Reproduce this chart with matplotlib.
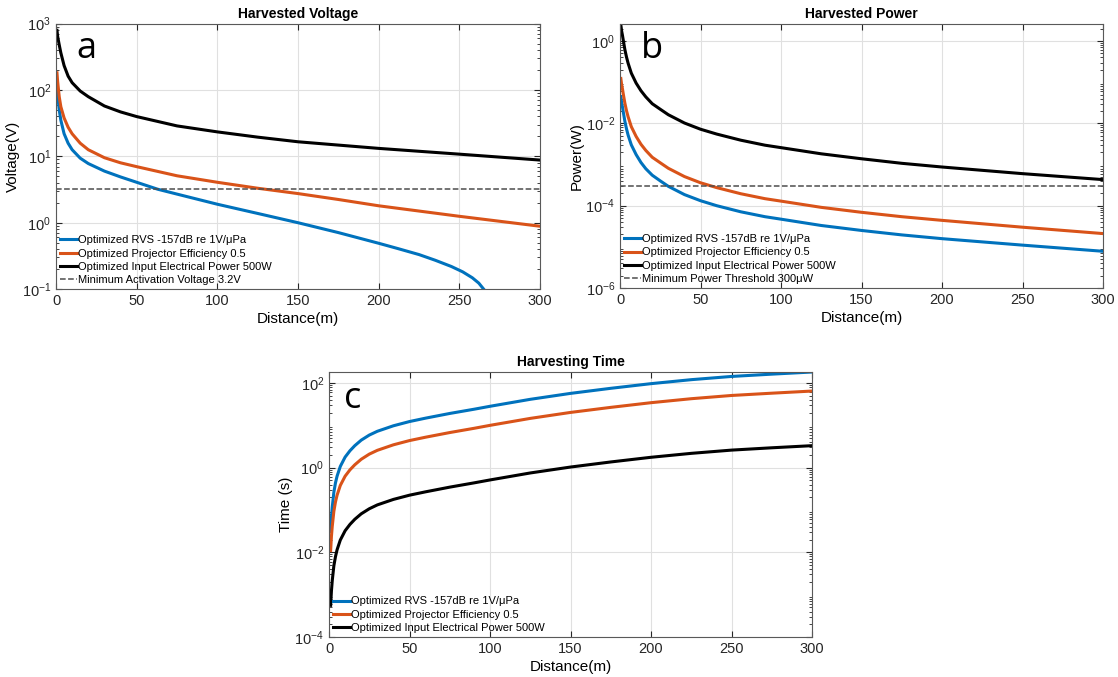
import matplotlib
matplotlib.use("Agg")
import matplotlib.pyplot as plt
from matplotlib.ticker import LogLocator, NullFormatter

plt.rcParams["font.family"] = ["Liberation Sans", "DejaVu Sans"]

blue = "#0072BD"
orange = "#D95319"

labels = [
    "Optimized RVS -157dB re 1V/\u03bcPa",
    "Optimized Projector Efficiency 0.5",
    "Optimized Input Electrical Power 500W",
]

# panel a: harvested voltage
va_blue_x = [0.6, 1, 2, 3, 5, 7.5, 10, 15, 20, 30, 40, 50, 63, 75, 100, 125, 150,
             175, 200, 212, 225, 235, 245, 252, 258, 262, 265]
va_blue_y = [107, 85, 50, 35, 22, 15.8, 12.6, 9.4, 7.8, 6.0, 4.9, 4.07, 3.2, 2.7, 1.9,
             1.38, 1.0, 0.71, 0.49, 0.407, 0.331, 0.272, 0.219, 0.182, 0.148, 0.123, 0.1]
va_x = [0.6, 1, 2, 3, 5, 7.5, 10, 15, 20, 30, 40, 50, 75, 100, 125, 150, 175, 200, 250, 300]
va_orange_y = [182, 135, 79, 56, 38, 27.5, 21.9, 15.8, 12.6, 9.55, 8.0, 7.0, 5.1, 4.07,
               3.31, 2.75, 2.24, 1.8, 1.25, 0.885]
va_black_y = [794, 646, 479, 363, 234, 162, 129, 96.6, 79.4, 57.5, 46.8, 39.8, 28.8, 23.4,
              19.5, 16.6, 14.8, 13.2, 10.8, 8.8]
min_voltage = 3.2

# panel b: harvested power
pb_x = [0.5, 1, 1.5, 2, 3, 4, 5, 7, 10, 13, 16, 20, 25, 30, 40, 50, 60, 75, 90, 100,
        125, 150, 175, 200, 250, 300]
pb_blue = [0.0447, 0.0316, 0.0251, 0.019, 0.0112, 0.0074, 0.0052, 0.003, 0.00174,
           0.00112, 7.9e-4, 5.5e-4, 4.0e-4, 2.95e-4, 1.86e-4, 1.32e-4, 1.0e-4, 7.1e-5,
           5.4e-5, 4.7e-5, 3.3e-5, 2.5e-5, 1.95e-5, 1.58e-5, 1.1e-5, 7.8e-6]
pb_orange = [0.123, 0.087, 0.069, 0.052, 0.031, 0.0204, 0.0145, 0.0083, 0.0048,
             0.0031, 0.0022, 0.0015, 0.0011, 8.1e-4, 5.1e-4, 3.6e-4, 2.75e-4, 1.95e-4,
             1.48e-4, 1.29e-4, 9.1e-5, 6.9e-5, 5.4e-5, 4.4e-5, 3.0e-5, 2.1e-5]
pb_black = [2.45, 1.74, 1.38, 1.05, 0.62, 0.41, 0.29, 0.166, 0.095, 0.062, 0.044,
            0.030, 0.022, 0.0162, 0.0102, 0.0072, 0.0055, 0.0039, 0.00295, 0.00257,
            0.00182, 0.00138, 0.00107, 8.7e-4, 6.0e-4, 4.3e-4]
min_power = 3e-4

# panel c: harvesting time
tc_x = [1, 1.5, 2, 3, 4, 5, 7, 10, 13, 16, 20, 25, 30, 40, 50, 60, 75, 90, 100, 125,
        150, 175, 200, 225, 250, 275, 300]
tc_blue = [0.031, 0.068, 0.117, 0.263, 0.437, 0.631, 1.07, 1.78, 2.51, 3.31, 4.47,
           5.89, 7.24, 9.77, 12.3, 14.8, 19.1, 24.0, 28.2, 41.2, 56.9, 75.0, 96.6,
           120, 143, 162, 182]
tc_orange = [0.011, 0.024, 0.041, 0.093, 0.155, 0.224, 0.38, 0.63, 0.89, 1.17, 1.58,
             2.09, 2.57, 3.47, 4.37, 5.25, 6.76, 8.5, 10.0, 14.6, 20.2, 26.6, 34.3,
             42.6, 50.8, 57.5, 64.6]
tc_black = [5.6e-4, 1.23e-3, 2.14e-3, 4.8e-3, 7.9e-3, 0.0115, 0.0195, 0.0324, 0.0457,
            0.0603, 0.0813, 0.107, 0.132, 0.178, 0.224, 0.269, 0.347, 0.437, 0.513,
            0.75, 1.035, 1.365, 1.76, 2.18, 2.6, 2.95, 3.31]

fig = plt.figure(figsize=(11.18, 6.77), dpi=100)
ax_a = fig.add_axes([0.0501, 0.573, 0.433, 0.392])
ax_b = fig.add_axes([0.5546, 0.5746, 0.432, 0.39])
ax_c = fig.add_axes([0.2943, 0.0591, 0.432, 0.3914])


def style_axes(ax, title, ylabel, ylim, letter, lx, ly):
    ax.set_yscale("log")
    ax.set_xlim(0, 300)
    ax.set_ylim(*ylim)
    ax.set_xticks(range(0, 301, 50))
    ax.yaxis.set_minor_locator(LogLocator(base=10, subs=range(2, 10), numticks=20))
    ax.yaxis.set_minor_formatter(NullFormatter())
    ax.tick_params(which="both", direction="in", top=True, right=True,
                   labelsize=10.5, colors="0.15")
    ax.tick_params(which="major", length=4)
    ax.tick_params(which="minor", length=2)
    ax.grid(True, which="major", color="0.88", lw=0.8)
    for s in ax.spines.values():
        s.set_color("0.35")
        s.set_linewidth(0.8)
    ax.set_title(title, fontsize=10, fontweight="bold", pad=4)
    ax.set_xlabel("Distance(m)", fontsize=11, labelpad=3)
    ax.set_ylabel(ylabel, fontsize=11, labelpad=1)
    ax.text(lx, ly, letter, transform=ax.transAxes, fontsize=26,
            family="Open Sans", va="baseline", ha="left")


def legend(ax):
    ax.legend(loc="lower left", frameon=False, fontsize=8, handlelength=1.5,
              handletextpad=0.1, labelspacing=0.3, borderaxespad=0.15,
              borderpad=0.2)


lw = 2.2

ax_a.plot(va_blue_x, va_blue_y, color=blue, lw=lw, label=labels[0])
ax_a.plot(va_x, va_orange_y, color=orange, lw=lw, label=labels[1])
ax_a.plot(va_x, va_black_y, color="black", lw=lw, label=labels[2])
ax_a.axhline(min_voltage, color="0.3", ls="--", lw=1.1,
             label="Minimum Activation Voltage 3.2V")
style_axes(ax_a, "Harvested Voltage", "Voltage(V)", (1e-1, 1e3), "a", 0.043, 0.872)
legend(ax_a)

ax_b.plot(pb_x, pb_blue, color=blue, lw=lw, label=labels[0])
ax_b.plot(pb_x, pb_orange, color=orange, lw=lw, label=labels[1])
ax_b.plot(pb_x, pb_black, color="black", lw=lw, label=labels[2])
ax_b.axhline(min_power, color="0.3", ls="--", lw=1.1,
             label="Minimum Power Threshold 300\u03bcW")
style_axes(ax_b, "Harvested Power", "Power(W)", (1e-6, 2.6), "b", 0.043, 0.871)
ax_b.set_yticks([1e-6, 1e-4, 1e-2, 1e0])
legend(ax_b)

ax_c.plot(tc_x, tc_blue, color=blue, lw=lw, label=labels[0])
ax_c.plot(tc_x, tc_orange, color=orange, lw=lw, label=labels[1])
ax_c.plot(tc_x, tc_black, color="black", lw=lw, label=labels[2])
style_axes(ax_c, "Harvesting Time", "Time (s)", (1e-4, 182), "c", 0.03, 0.864)
ax_c.set_yticks([1e-4, 1e-2, 1e0, 1e2])
legend(ax_c)

fig.savefig("out.png", dpi=100)
